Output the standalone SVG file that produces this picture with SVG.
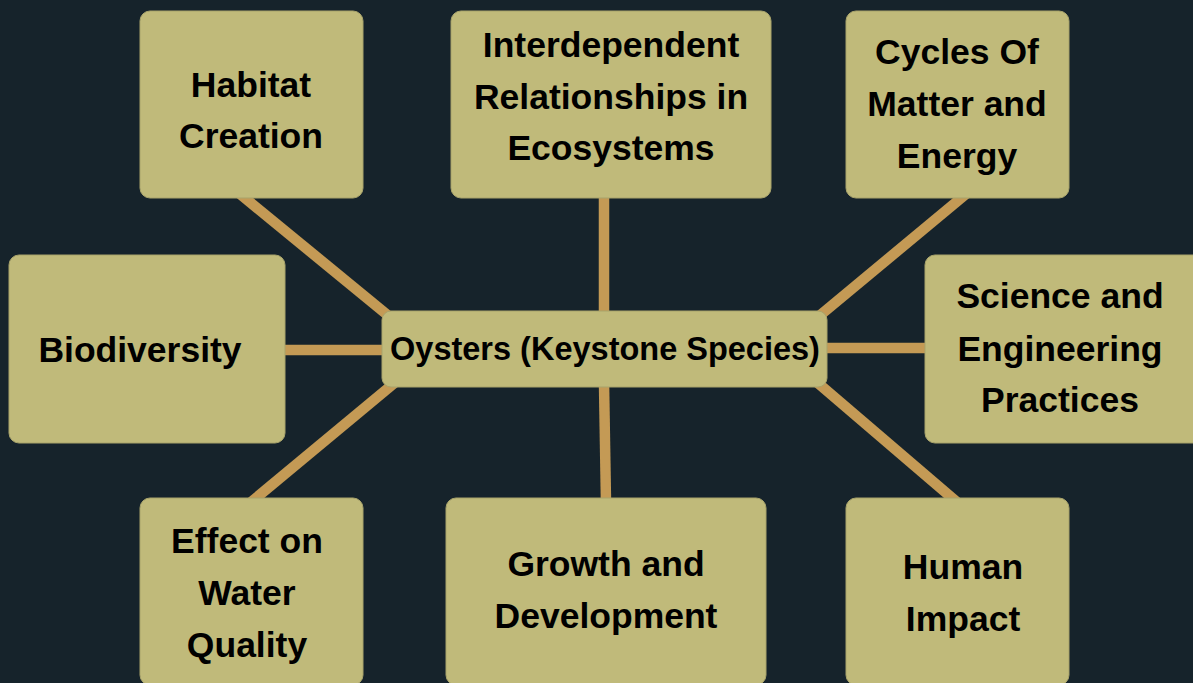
<svg xmlns="http://www.w3.org/2000/svg" width="1193" height="683" viewBox="0 0 1193 683">
<style>
.bg{fill:#16232b}
.box{fill:#c0ba7a;stroke:#a8a36b;stroke-width:1}
.c{stroke:#c49a55;stroke-width:10.5;fill:none;stroke-linecap:butt}
text{font-family:"Liberation Sans",Arial,sans-serif;font-weight:bold;fill:#000;text-anchor:middle}
.t{font-size:35.5px}
.m{font-size:32.5px}
</style>
<rect class="bg" x="0" y="0" width="1193" height="683"/>
<g id="connectors">
<line class="c" x1="240" y1="194" x2="396" y2="322"/>
<line class="c" x1="604" y1="195" x2="604" y2="315"/>
<line class="c" x1="966" y1="194" x2="812" y2="322"/>
<line class="c" x1="282" y1="350" x2="386" y2="350"/>
<line class="c" x1="823" y1="348" x2="928" y2="348"/>
<line class="c" x1="250" y1="503" x2="398" y2="380"/>
<line class="c" x1="604" y1="383" x2="606" y2="503"/>
<line class="c" x1="812" y1="378" x2="958" y2="503"/>
</g>
<g id="habitat">
<rect class="box" x="140" y="11" width="223" height="187" rx="10"/>
<text class="t" x="251" y="97">Habitat</text>
<text class="t" x="251" y="148">Creation</text>
</g>
<g id="interdependent">
<rect class="box" x="451" y="11" width="320" height="187" rx="10"/>
<text class="t" x="611" y="57">Interdependent</text>
<text class="t" x="611" y="109">Relationships in</text>
<text class="t" x="611" y="160">Ecosystems</text>
</g>
<g id="cycles">
<rect class="box" x="846" y="11" width="223" height="187" rx="10"/>
<text class="t" x="957" y="64">Cycles Of</text>
<text class="t" x="957" y="116">Matter and</text>
<text class="t" x="957" y="168">Energy</text>
</g>
<g id="biodiversity">
<rect class="box" x="9" y="255" width="276" height="188" rx="10"/>
<text class="t" x="140" y="362">Biodiversity</text>
</g>
<g id="science">
<rect class="box" x="925" y="255" width="278" height="188" rx="10"/>
<text class="t" x="1060" y="308">Science and</text>
<text class="t" x="1060" y="361">Engineering</text>
<text class="t" x="1060" y="412">Practices</text>
</g>
<g id="oysters">
<rect class="box" x="382" y="311" width="445" height="76" rx="9"/>
<text class="m" x="605" y="360">Oysters (Keystone Species)</text>
</g>
<g id="effect">
<rect class="box" x="140" y="498" width="223" height="187" rx="10"/>
<text class="t" x="247" y="553">Effect on</text>
<text class="t" x="247" y="605">Water</text>
<text class="t" x="247" y="657">Quality</text>
</g>
<g id="growth">
<rect class="box" x="446" y="498" width="320" height="187" rx="10"/>
<text class="t" x="606" y="576">Growth and</text>
<text class="t" x="606" y="628">Development</text>
</g>
<g id="human">
<rect class="box" x="846" y="498" width="223" height="187" rx="10"/>
<text class="t" x="963" y="579">Human</text>
<text class="t" x="963" y="631">Impact</text>
</g>
</svg>
